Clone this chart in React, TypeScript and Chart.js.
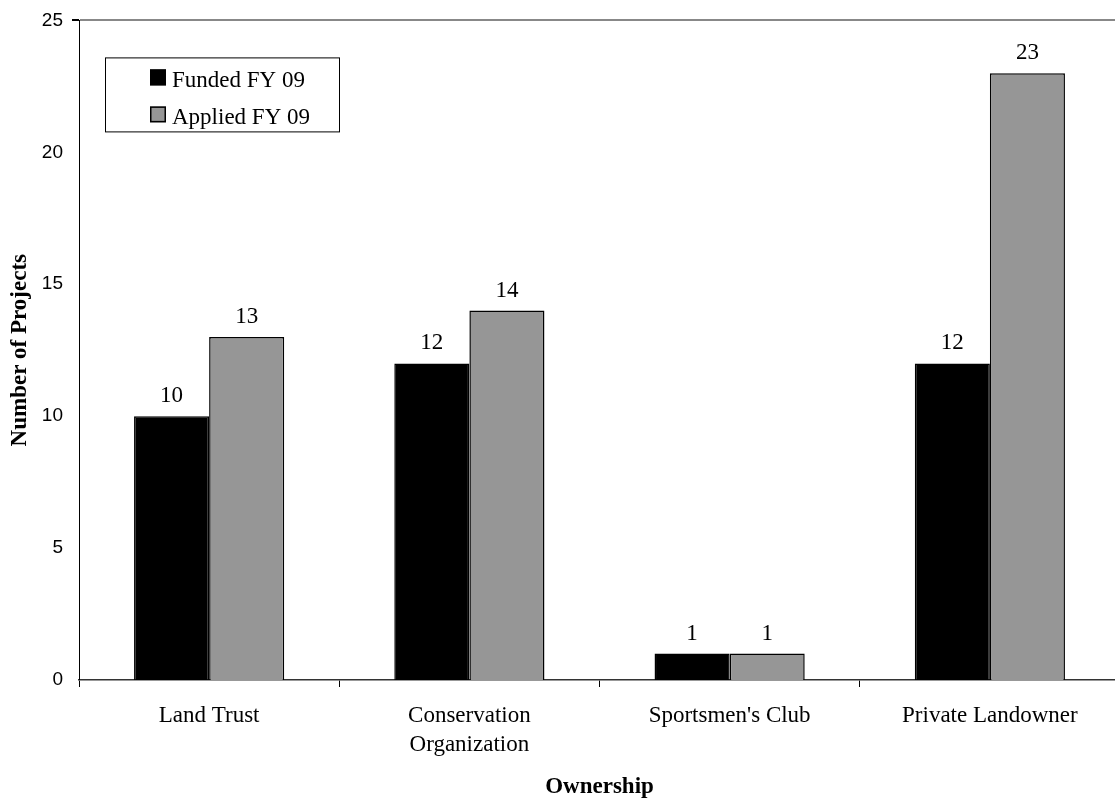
import React, { useEffect, useRef } from "react";
import { Chart, registerables } from "chart.js";

Chart.register(...registerables);

const categories: (string | string[])[] = [
  "Land Trust",
  ["Conservation", "Organization"],
  "Sportsmen's Club",
  "Private Landowner",
];
const fundedFY09 = [10, 12, 1, 12];
const appliedFY09 = [13, 14, 1, 23];
const seriesLabels = ["Funded FY 09", "Applied FY 09"];
const yTicks = [0, 5, 10, 15, 20, 25];

const SERIF = "'Liberation Serif', 'Times New Roman', serif";
const SANS = "'Liberation Sans', Arial, sans-serif";

const valueLabelPlugin = {
  id: "valueLabels",
  afterDatasetsDraw(chart: any) {
    const ctx = chart.ctx;
    ctx.save();
    ctx.font = `23px ${SERIF}`;
    ctx.fillStyle = "#000";
    ctx.textAlign = "center";
    ctx.textBaseline = "alphabetic";
    chart.data.datasets.forEach((ds: any, i: number) => {
      const meta = chart.getDatasetMeta(i);
      meta.data.forEach((bar: any, j: number) => {
        ctx.fillText(String(ds.data[j]), bar.x, bar.y - 14);
      });
    });
    ctx.restore();
  },
};

const boxLegendPlugin = {
  id: "boxLegend",
  afterDraw(chart: any) {
    const ctx = chart.ctx;
    const left = chart.chartArea.left + 26;
    const top = chart.chartArea.top + 37;
    const w = 234;
    const h = 74;
    ctx.save();
    ctx.fillStyle = "#fff";
    ctx.fillRect(left, top, w, h);
    ctx.strokeStyle = "#000";
    ctx.lineWidth = 1;
    ctx.strokeRect(left + 0.5, top + 0.5, w, h);
    ctx.font = `23px ${SERIF}`;
    ctx.textAlign = "left";
    ctx.textBaseline = "alphabetic";
    chart.data.datasets.forEach((ds: any, i: number) => {
      const sy = top + 12 + i * 37;
      const sx = left + 45;
      ctx.fillStyle = ds.backgroundColor;
      ctx.fillRect(sx, sy, 16, 16);
      ctx.strokeStyle = "#000";
      ctx.lineWidth = 1.5;
      ctx.strokeRect(sx + 0.75, sy + 0.75, 14.5, 14.5);
      ctx.fillStyle = "#000";
      ctx.fillText(ds.label, sx + 22, top + 30 + i * 37);
    });
    ctx.restore();
  },
};

export default function App() {
  const canvasRef = useRef<HTMLCanvasElement>(null);

  useEffect(() => {
    if (!canvasRef.current) return;
    const chart = new Chart(canvasRef.current, {
      type: "bar",
      data: {
        labels: categories,
        datasets: [
          {
            label: seriesLabels[0],
            data: fundedFY09,
            backgroundColor: "#000000",
            borderColor: "#000000",
            borderWidth: 1.5,
            categoryPercentage: 0.577,
            barPercentage: 1,
          },
          {
            label: seriesLabels[1],
            data: appliedFY09,
            backgroundColor: "#969696",
            borderColor: "#000000",
            borderWidth: 1.5,
            categoryPercentage: 0.577,
            barPercentage: 1,
          },
        ],
      },
      options: {
        animation: false,
        responsive: false,
        maintainAspectRatio: false,
        layout: { padding: { top: 15, right: 0, bottom: 0, left: 0 } },
        plugins: {
          legend: { display: false },
          tooltip: { enabled: false },
          title: { display: false },
        },
        scales: {
          x: {
            grid: {
              display: true,
              drawOnChartArea: false,
              drawTicks: true,
              tickLength: 7,
              tickColor: "#000",
              offset: true,
            },
            border: { display: true, color: "#333", width: 1.5 },
            ticks: {
              color: "#000",
              font: { family: SERIF, size: 23, lineHeight: 1.25 },
              padding: 15,
              maxRotation: 0,
              autoSkip: false,
            },
            title: {
              display: true,
              text: "Ownership",
              color: "#000",
              font: { family: SERIF, size: 23, weight: "bold", lineHeight: 1.2 },
              padding: { top: 0, bottom: 2 },
            },
            afterFit(scale: any) {
              scale.height = 123;
            },
          },
          y: {
            min: 0,
            max: 25,
            afterBuildTicks(scale: any) {
              scale.ticks = yTicks.map((v) => ({ value: v }));
            },
            grid: {
              display: true,
              drawOnChartArea: true,
              drawTicks: true,
              tickLength: 7,
              tickColor: "#000",
              color: (c: any) => (c.tick && c.tick.value === 25 ? "#888" : "rgba(0,0,0,0)"),
              lineWidth: (c: any) => (c.tick && c.tick.value === 25 ? 2 : 0),
            },
            border: { display: true, color: "#000", width: 1 },
            ticks: {
              color: "#000",
              font: { family: SANS, size: 19 },
              padding: 9,
            },
            title: {
              display: true,
              text: "Number of Projects",
              color: "#000",
              font: { family: SERIF, size: 23, weight: "bold", lineHeight: 1.2 },
              padding: { top: 6, bottom: 0 },
            },
            afterFit(scale: any) {
              scale.width = 79;
            },
          },
        },
      },
      plugins: [valueLabelPlugin, boxLegendPlugin],
    });
    return () => chart.destroy();
  }, []);

  return (
    <div
      style={{
        position: "fixed",
        left: 0,
        top: 0,
        width: 1115,
        height: 803,
        overflow: "hidden",
        background: "#fff",
      }}
    >
      <canvas
        ref={canvasRef}
        width={1120}
        height={803}
        style={{ width: 1120, height: 803, display: "block" }}
      />
    </div>
  );
}
